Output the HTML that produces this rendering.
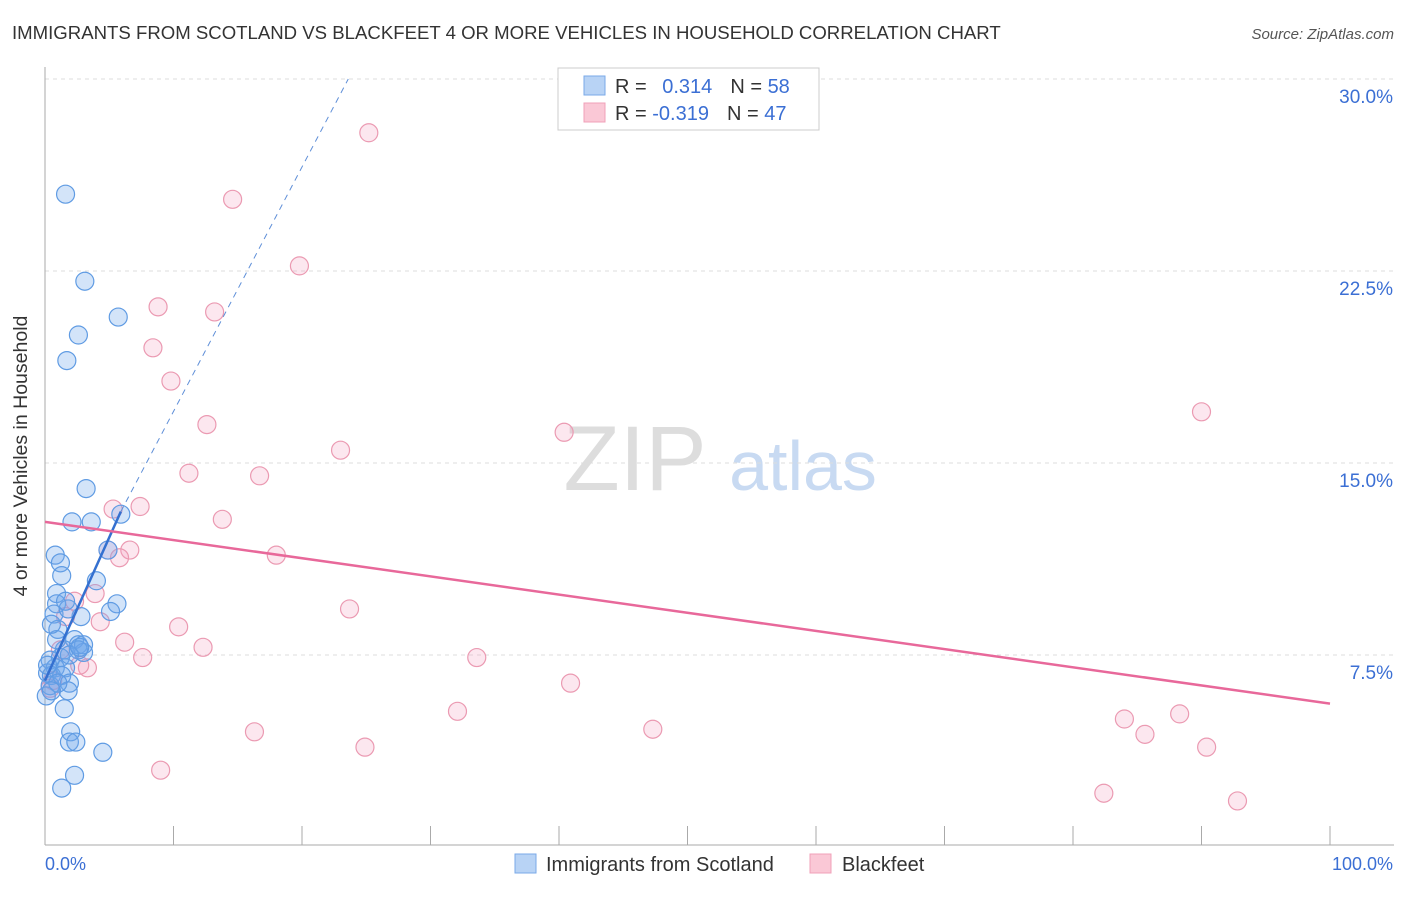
<!DOCTYPE html>
<html><head><meta charset="utf-8"><style>
body{margin:0;background:#fff;font-family:"Liberation Sans",sans-serif;}
svg text{font-family:"Liberation Sans",sans-serif;}
</style></head><body>
<svg id="chart" width="1406" height="892">
<text x="12" y="39" font-size="18.6" fill="#333">IMMIGRANTS FROM SCOTLAND VS BLACKFEET 4 OR MORE VEHICLES IN HOUSEHOLD CORRELATION CHART</text>
<text x="1394" y="39" font-size="15" fill="#555" font-style="italic" text-anchor="end">Source: ZipAtlas.com</text>
<text x="27" y="456" font-size="19.5" fill="#333" text-anchor="middle" transform="rotate(-90 27 456)">4 or more Vehicles in Household</text>
<g><text x="635" y="490" font-size="92" fill="#ddd" text-anchor="middle" font-family="Liberation Serif">ZIP</text><text x="803" y="490" font-size="70" fill="#c8daf2" text-anchor="middle">atlas</text></g>
<g id="grid"></g><g id="axes"></g><g id="pts"></g><g id="lines"></g>
<g>
<rect x="558" y="68" width="261" height="62" fill="#fff" stroke="#ccc"/>
<rect x="584" y="76" width="21" height="19" fill="#b8d3f5" stroke="#7aaae8"/>
<rect x="584" y="103" width="21" height="19" fill="#fac8d6" stroke="#f0a0b8"/>
<text x="615" y="93" font-size="20" fill="#333">R = <tspan fill="#3b6fd4" dx="10">0.314</tspan><tspan fill="#333" dx="18">N = </tspan><tspan fill="#3b6fd4">58</tspan></text>
<text x="615" y="120" font-size="20" fill="#333">R = <tspan fill="#3b6fd4">-0.319</tspan><tspan fill="#333" dx="18">N = </tspan><tspan fill="#3b6fd4">47</tspan></text>
</g>
<g>
<rect x="515" y="854" width="21" height="19" fill="#b8d3f5" stroke="#7aaae8"/>
<text x="546" y="871" font-size="20" fill="#333">Immigrants from Scotland</text>
<rect x="810" y="854" width="21" height="19" fill="#fac8d6" stroke="#f0a0b8"/>
<text x="842" y="871" font-size="20" fill="#333">Blackfeet</text>
</g>
</svg>
<script>
const yTicks=[7.5,15,22.5,30];
const yTickLabels=["7.5%","15.0%","22.5%","30.0%"];
const blueX=[1.6,3.1,5.7,2.6,1.7,3.2,2.1,3.6,5.9,4.9,0.8,1.2,1.3,4.0,0.9,0.9,5.6,5.1,2.8,0.7,1.8,1.0,2.3,2.6,1.5,3.0,0.4,1.2,0.8,1.6,0.2,0.5,0.4,1.3,1.9,1.8,0.1,1.5,2.0,1.9,2.4,4.5,2.3,1.3,0.9,0.5,3.0,2.6,1.9,0.2,1.0,0.5,1.6,2.7];
const blueY=[25.5,22.1,20.7,20.0,19.0,14.0,12.7,12.7,13.0,11.6,11.4,11.1,10.6,10.4,9.9,9.5,9.5,9.2,9.0,9.1,9.3,8.5,8.1,7.9,7.7,7.6,7.3,7.4,7.0,7.0,6.8,6.7,6.3,6.7,6.4,6.1,5.9,5.4,4.5,4.1,4.1,3.7,2.8,2.3,8.1,8.7,7.9,7.7,7.5,7.1,6.4,6.1,9.6,7.8];
const pinkX=[25.2,14.6,19.8,8.8,13.2,8.4,9.8,12.6,23.0,40.4,90.0,11.2,16.7,7.4,5.3,13.8,6.6,4.9,5.8,18.0,3.9,2.3,23.7,1.6,4.3,10.4,6.2,12.3,7.6,33.6,3.3,40.9,0.6,32.1,16.3,47.3,24.9,84.0,88.3,85.6,90.4,9.0,82.4,92.8,2.7,1.2,0.4];
const pinkY=[27.9,25.3,22.7,21.1,20.9,19.5,18.2,16.5,15.5,16.2,17.0,14.6,14.5,13.3,13.2,12.8,11.6,11.6,11.3,11.4,9.9,9.6,9.3,9.0,8.8,8.6,8.0,7.8,7.4,7.4,7.0,6.4,6.5,5.3,4.5,4.6,3.9,5.0,5.2,4.4,3.9,3.0,2.1,1.8,7.1,7.7,6.2];
const blueFit=[6.5,13.1,30];const blueFitX=[0,5.9,23.6];
const pinkFit=[12.7,5.6];const pinkFitX=[0,100];
const NS="http://www.w3.org/2000/svg";
const sx=v=>45+v*12.85, sy=v=>847-v*25.6;
function mk(p,t,a){const e=document.createElementNS(NS,t);for(const k in a)e.setAttribute(k,a[k]);document.getElementById(p).appendChild(e);return e;}
yTicks.forEach((t,i)=>{
 const l=mk('grid','line',{x1:45,x2:1394,y1:sy(t),y2:sy(t),stroke:'#ddd','stroke-dasharray':'4 4'});
 
 
 const tx=mk('grid','text',{x:1393,y:sy(t)+24,'font-size':19,fill:'#3b6fd4','text-anchor':'end'});
 tx.textContent=yTickLabels[i];
 
 
});
let a=mk('axes','line',{x1:45,x2:45,y1:67,y2:845,stroke:'#aaa'});


a=mk('axes','line',{x1:45,x2:1394,y1:845,y2:845,stroke:'#aaa'});


for(let k=0;k<=10;k++){const t=mk('axes','line',{x1:sx(k*10),x2:sx(k*10),y1:826,y2:845,stroke:'#aaa'});
 
 }
[["0.0%",45,'start'],["100.0%",1393,'end']].forEach(d=>{const t=mk('axes','text',{x:d[1],y:870,'font-size':18,fill:'#3b6fd4','text-anchor':d[2]});t.textContent=d[0];
 
 });
pinkX.forEach((x,i)=>{const c=mk('pts','circle',{cx:sx(x),cy:sy(pinkY[i]),r:9,fill:'rgba(245,160,190,0.25)',stroke:'#eb9ab2','stroke-width':1.2});
 
 });
blueX.forEach((x,i)=>{const c=mk('pts','circle',{cx:sx(x),cy:sy(blueY[i]),r:9,fill:'rgba(110,165,235,0.3)',stroke:'#5f9be3','stroke-width':1.2});
 
 });
let L=mk('lines','line',{x1:sx(blueFitX[0]),y1:sy(blueFit[0]),x2:sx(blueFitX[1]),y2:sy(blueFit[1]),stroke:'#3470d0','stroke-width':2.5});


L=mk('lines','line',{x1:sx(blueFitX[1]),y1:sy(blueFit[1]),x2:sx(blueFitX[2]),y2:sy(blueFit[2]),stroke:'#5f8fd8','stroke-width':1,'stroke-dasharray':'6 5'});


L=mk('lines','line',{x1:sx(pinkFitX[0]),y1:sy(pinkFit[0]),x2:sx(pinkFitX[1]),y2:sy(pinkFit[1]),stroke:'#e8689a','stroke-width':2.5});


</script>
</body></html>
